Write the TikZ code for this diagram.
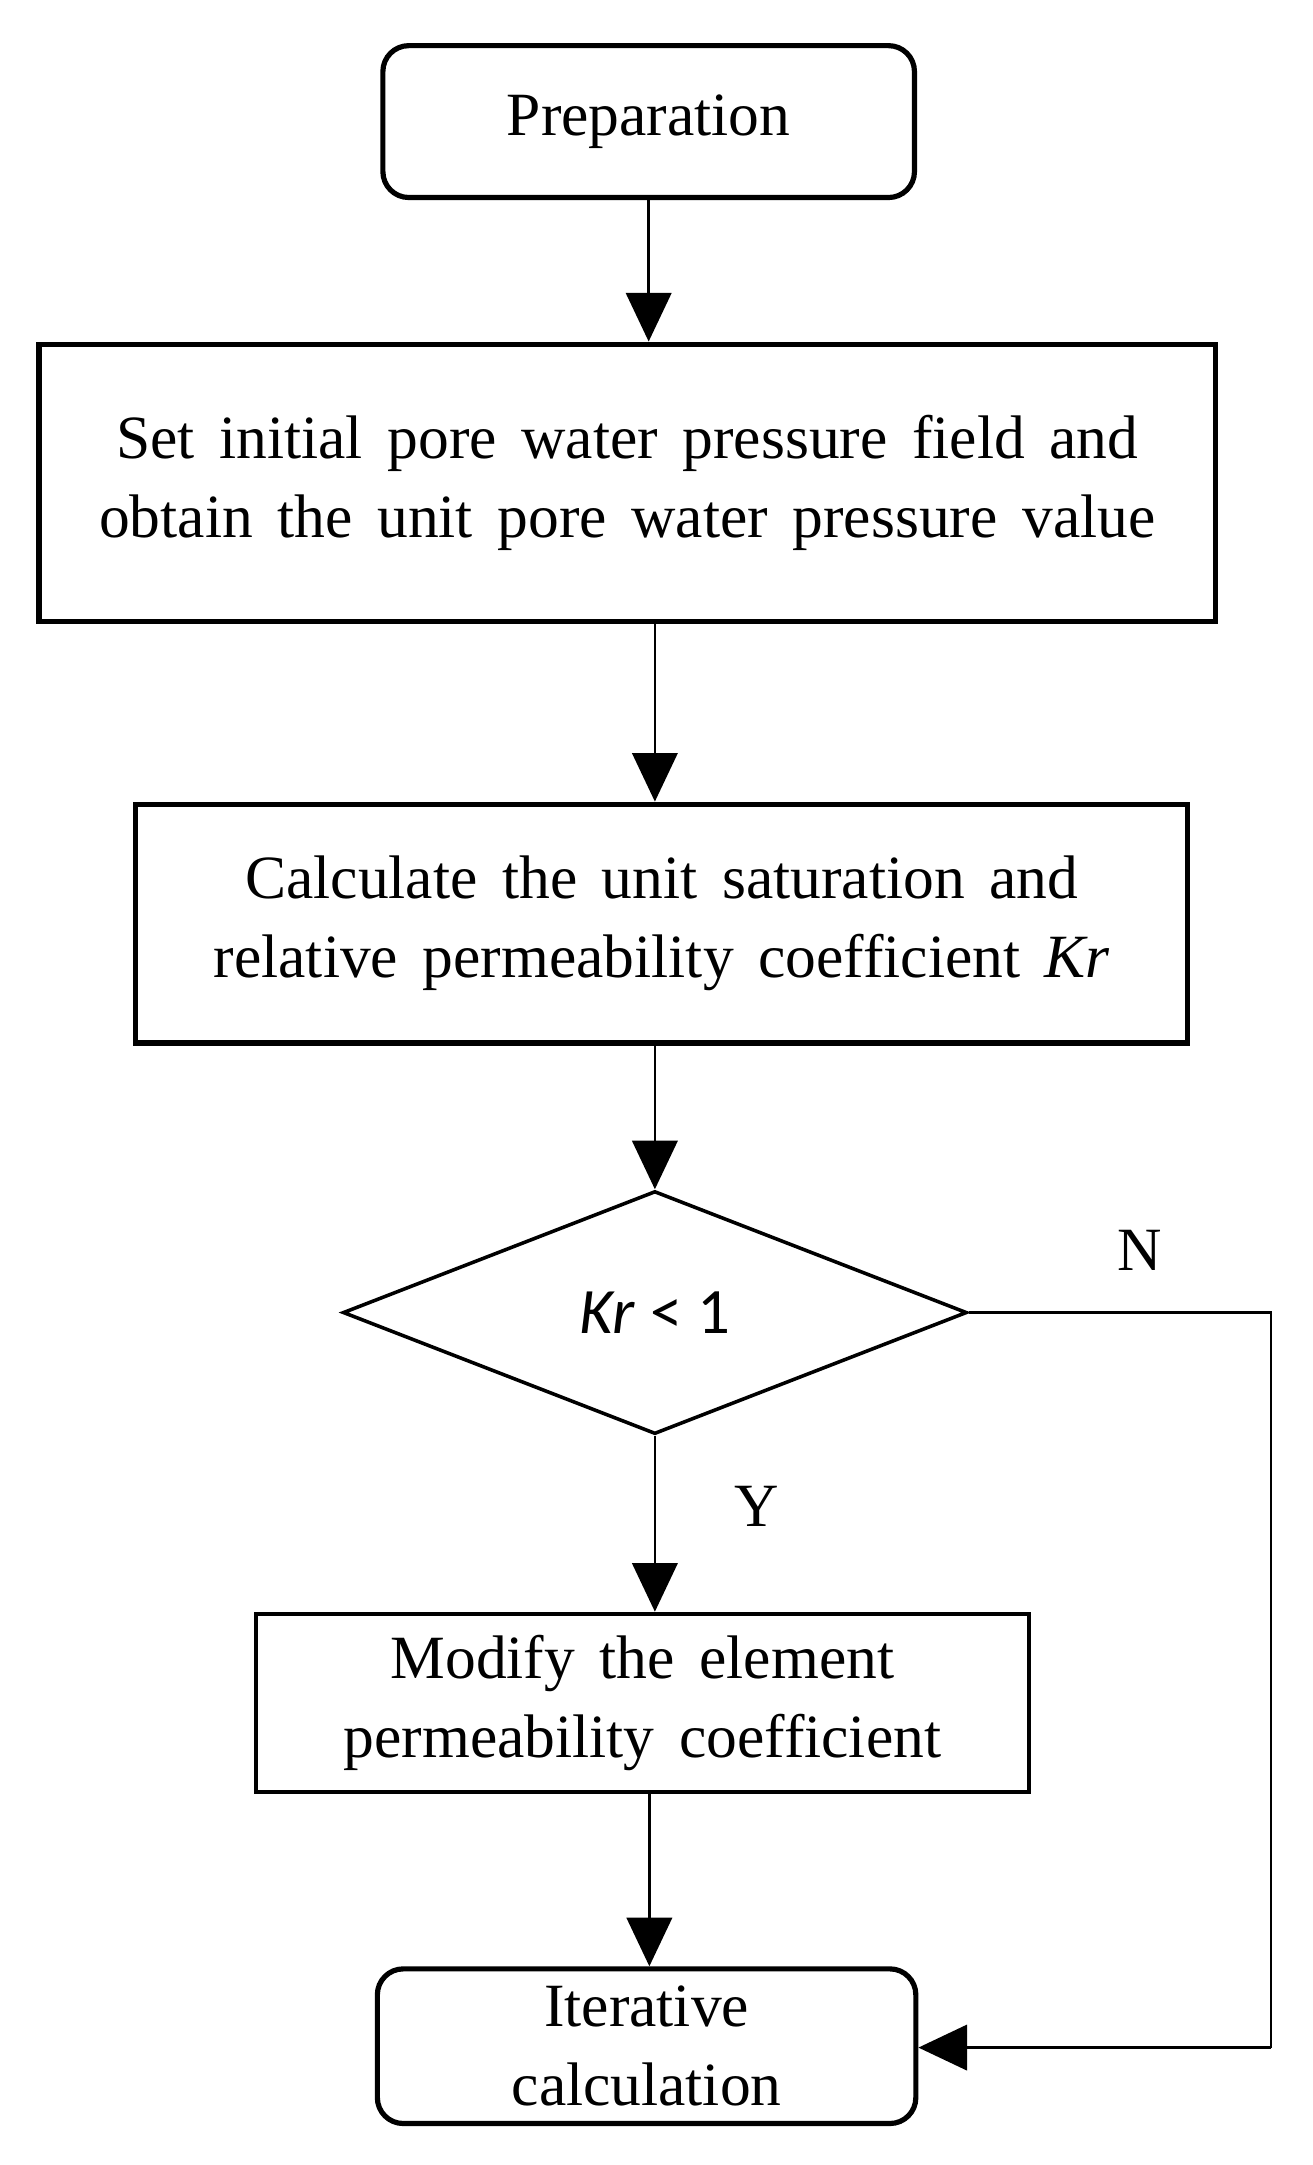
\documentclass[tikz,border=0pt]{standalone}
\usepackage{fontspec}
\setmainfont{Liberation Serif}[WordSpace={1.6}]
\newfontfamily\carlitofont{Carlito}
\usetikzlibrary{arrows.meta,shapes.geometric}
\begin{document}
\begin{tikzpicture}[x=0.03cm,y=-0.03cm,
  box/.style={draw,line width=3.2pt,align=center,inner sep=0pt,font=\fontsize{38}{49}\selectfont},
  rbox/.style={box,rounded corners=16pt},
  arr/.style={line width=1.7pt,-{Triangle[length=30pt,width=28pt]}},
  lab/.style={font=\fontsize{38}{49}\selectfont}]
\useasboundingbox (0,0) rectangle (950,1567);
\node[rbox,minimum width=385*0.853pt,minimum height=110*0.853pt] (prep) at (469.5,88) {\raisebox{-4pt}{Preparation}};
\node[box,minimum width=852*0.853pt,minimum height=201*0.853pt] (set) at (454,349.5) {Set initial pore water pressure field and\\obtain the unit pore water pressure value};
\node[box,minimum width=762*0.853pt,minimum height=173*0.853pt] (calc) at (479,668.5) {Calculate the unit saturation and\\relative permeability coefficient \textit{Kr}};
\node[draw,diamond,aspect=2.57,line width=2.2pt,inner sep=0pt,minimum width=452*0.853pt,minimum height=176*0.853pt,font=\carlitofont\fontsize{40}{49}\selectfont] (dec) at (474,950) {\textit{Kr} < 1};
\node[box,line width=2.6pt,minimum width=560*0.853pt,minimum height=129*0.853pt] (mod) at (465,1232.5) {Modify the element\\permeability coefficient};
\node[rbox,minimum width=390*0.853pt,minimum height=112*0.853pt] (iter) at (468,1481) {Iterative\\calculation};
\coordinate (c1) at (920,950);
\coordinate (c2) at (920,1482);
\draw[arr] (prep.south) -- (prep.south|-set.north);
\draw[arr] (set.south-|474,0) -- (calc.north-|474,0);
\draw[arr] (calc.south-|474,0) -- (dec.north);
\draw[arr] (dec.south) -- (mod.north-|474,0);
\draw[arr] (mod.south-|470,0) -- (iter.north-|470,0);
\draw[line width=1.7pt] (dec.east) -- (c1) -- (c2);
\draw[arr] (c2) -- (iter.east|-c2);
\node[lab] (n) at (825,905) {N};
\node[lab] (y) at (548,1090) {Y};
\end{tikzpicture}
\end{document}
